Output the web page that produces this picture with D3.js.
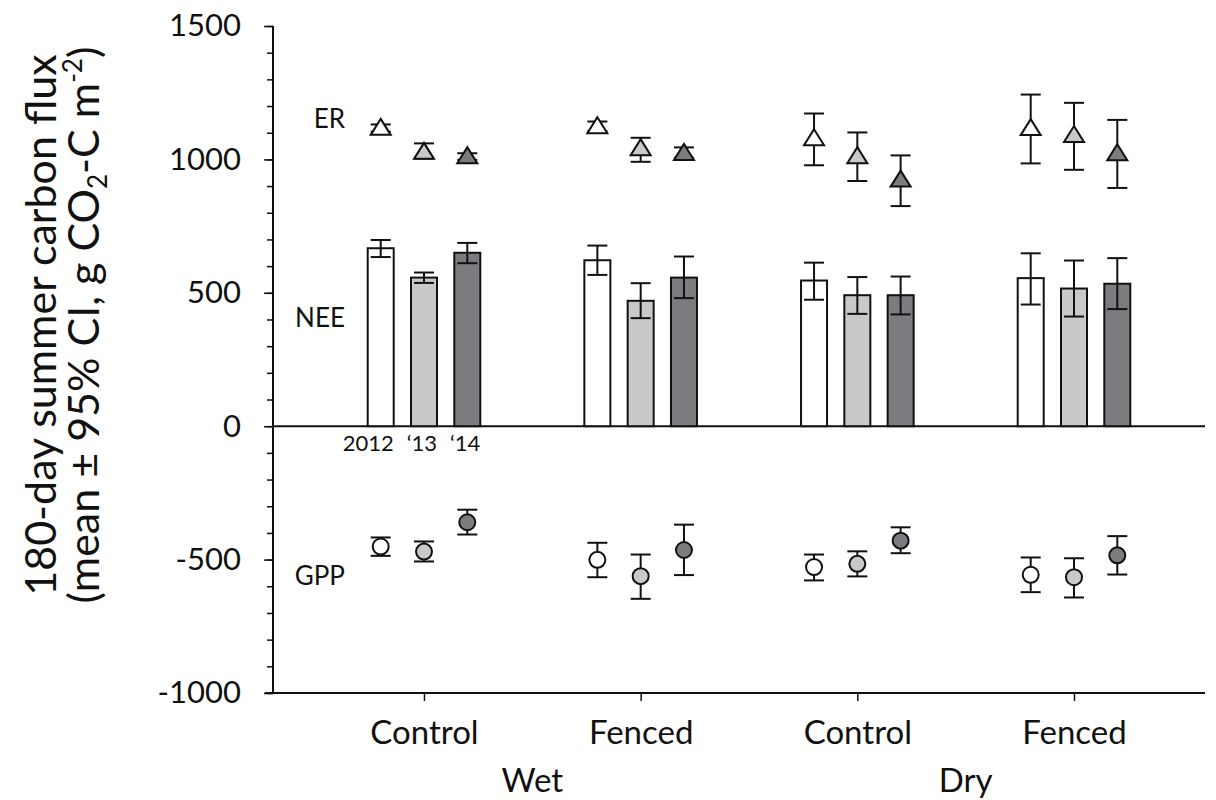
<!DOCTYPE html>
<html>
<head>
<meta charset="utf-8">
<script src="https://cdn.jsdelivr.net/npm/d3@7/dist/d3.min.js"></script>
<style>
  html, body { margin: 0; padding: 0; background: #fff; }
  svg { display: block; font-family: Lato, "Open Sans", sans-serif; }
</style>
</head>
<body>
<svg id="chart" width="1216" height="800"></svg>
<script>
// ---- data ----
const treatments = ["Control", "Fenced", "Control", "Fenced"];
const sites = ["Wet", "Dry"];
const years = ["2012", "\u201813", "\u201814"];
const yearFills = ["#ffffff", "#c8c9cb", "#7b7c80"];

// NEE (bars): mean, lower and upper 95% CI, per treatment x year
const neeMean = [[667, 557, 650], [622, 470, 557], [546, 491, 491], [555, 516, 534]];
const neeLo   = [[634, 537, 611], [567, 405, 480], [474, 421, 419], [456, 411, 439]];
const neeHi   = [[698, 576, 687], [677, 536, 636], [613, 559, 561], [648, 621, 630]];

// ER (triangles)
const erMean = [[1122, 1032, 1016], [1128, 1046, 1028], [1083, 1016, 928], [1121, 1095, 1027]];
const erLo   = [[1104, 1003, 998], [1106, 991, 1006], [978, 919, 825], [985, 961, 893]];
const erHi   = [[1131, 1060, 1023], [1142, 1081, 1045], [1172, 1101, 1015], [1243, 1212, 1148]];

// GPP (circles)
const gppMean = [[-451, -470, -360], [-501, -562, -464], [-528, -516, -429], [-557, -566, -484]];
const gppLo   = [[-486, -507, -406], [-566, -647, -558], [-578, -563, -476], [-622, -642, -556]];
const gppHi   = [[-417, -432, -313], [-437, -481, -369], [-481, -469, -379], [-492, -495, -412]];

const yTicksMajor = [-1000, -500, 0, 500, 1000, 1500];
const yTicksMinor = d3.range(-1000, 1501, 100);
const fluxLabels = ["ER", "NEE", "GPP"];

// ---- layout ----
const svg = d3.select("#chart");
const axisX = 273, plotRight = 1205, plotTop = 26, plotBottom = 693;

const y = d3.scaleLinear().domain([-1000, 1500]).range([plotBottom, plotTop]);
const xGroup = d3.scalePoint().domain(d3.range(treatments.length)).range([424, 1074]);
const xYear = d3.scalePoint().domain(d3.range(years.length)).range([-43.3, 43.3]);
const barW = 26, capW = 20;
const stroke = "#111";

// y axis: minor ticks
const gMinor = svg.append("g").attr("transform", `translate(${axisX},0)`)
  .call(d3.axisLeft(y).tickValues(yTicksMinor).tickSize(6).tickFormat(""));
gMinor.select(".domain").remove();
gMinor.selectAll("line").attr("stroke", stroke).attr("stroke-width", 1.5);

// y axis: major ticks + labels
const gMajor = svg.append("g").attr("transform", `translate(${axisX},0)`)
  .call(d3.axisLeft(y).tickValues(yTicksMajor).tickSize(9).tickPadding(23).tickFormat(d => String(d)));
gMajor.select(".domain").attr("stroke", stroke).attr("stroke-width", 2).attr("d", `M0,${plotTop}V${plotBottom}`);
gMajor.selectAll("line").attr("stroke", stroke).attr("stroke-width", 1.5);
gMajor.selectAll("text").attr("font-size", 31).attr("fill", "#111").attr("font-family", "Lato");

// x axis (bottom)
const gX = svg.append("g").attr("transform", `translate(0,${plotBottom})`)
  .call(d3.axisBottom(xGroup).tickSize(8).tickPadding(20).tickFormat(i => treatments[i]));
gX.select(".domain").attr("stroke", stroke).attr("stroke-width", 2).attr("d", `M265,0H${plotRight}`);
gX.selectAll("line").attr("stroke", stroke).attr("stroke-width", 1.5);
gX.selectAll("text").attr("font-size", 33).attr("fill", "#111").attr("font-family", "Lato");

// site labels
sites.forEach((s, i) => {
  svg.append("text")
    .attr("x", (xGroup(2 * i) + xGroup(2 * i + 1)) / 2)
    .attr("y", 792)
    .attr("text-anchor", "middle")
    .attr("font-size", 33).attr("fill", "#111")
    .text(s);
});

// zero line
svg.append("line")
  .attr("x1", axisX).attr("x2", plotRight)
  .attr("y1", y(0)).attr("y2", y(0))
  .attr("stroke", stroke).attr("stroke-width", 2);

// flatten data
const cells = [];
treatments.forEach((t, g) => years.forEach((yr, k) => cells.push({ g, k })));
const cx = d => xGroup(d.g) + xYear(d.k);

function errorBar(sel, lo, hi) {
  sel.append("line").attr("x1", cx).attr("x2", cx)
    .attr("y1", d => y(lo[d.g][d.k])).attr("y2", d => y(hi[d.g][d.k]));
  sel.append("line").attr("x1", d => cx(d) - capW / 2).attr("x2", d => cx(d) + capW / 2)
    .attr("y1", d => y(lo[d.g][d.k])).attr("y2", d => y(lo[d.g][d.k]));
  sel.append("line").attr("x1", d => cx(d) - capW / 2).attr("x2", d => cx(d) + capW / 2)
    .attr("y1", d => y(hi[d.g][d.k])).attr("y2", d => y(hi[d.g][d.k]));
}

// NEE bars
svg.append("g").selectAll("rect").data(cells).join("rect")
  .attr("x", d => cx(d) - barW / 2)
  .attr("width", barW)
  .attr("y", d => y(neeMean[d.g][d.k]))
  .attr("height", d => y(0) - y(neeMean[d.g][d.k]))
  .attr("fill", d => yearFills[d.k])
  .attr("stroke", stroke).attr("stroke-width", 2);

const eNEE = svg.append("g").attr("stroke", stroke).attr("stroke-width", 2)
  .selectAll("g").data(cells).join("g");
errorBar(eNEE, neeLo, neeHi);

// ER error bars + triangles
const eER = svg.append("g").attr("stroke", stroke).attr("stroke-width", 2)
  .selectAll("g").data(cells).join("g");
errorBar(eER, erLo, erHi);
const triW = 20, triH = 16;
svg.append("g").selectAll("path").data(cells).join("path")
  .attr("d", d => {
    const x0 = cx(d), y0 = y(erMean[d.g][d.k]);
    return `M${x0},${y0 - triH / 2}L${x0 + triW / 2},${y0 + triH / 2}L${x0 - triW / 2},${y0 + triH / 2}Z`;
  })
  .attr("fill", d => yearFills[d.k])
  .attr("stroke", stroke).attr("stroke-width", 2).attr("stroke-linejoin", "miter");

// GPP error bars + circles
const eGPP = svg.append("g").attr("stroke", stroke).attr("stroke-width", 2)
  .selectAll("g").data(cells).join("g");
errorBar(eGPP, gppLo, gppHi);
svg.append("g").selectAll("circle").data(cells).join("circle")
  .attr("cx", cx)
  .attr("cy", d => y(gppMean[d.g][d.k]))
  .attr("r", 8)
  .attr("fill", d => yearFills[d.k])
  .attr("stroke", stroke).attr("stroke-width", 2);

// year labels under first group
years.forEach((yr, k) => {
  svg.append("text")
    .attr("x", xGroup(0) + xYear(k) + barW / 2)
    .attr("y", y(0) + 25)
    .attr("text-anchor", "end")
    .attr("font-size", 22).attr("fill", "#111")
    .text(yr);
});

// flux labels
const fluxLabelY = [1117, 372, -594];
fluxLabels.forEach((lab, i) => {
  svg.append("text")
    .attr("x", 345)
    .attr("y", y(fluxLabelY[i]))
    .attr("text-anchor", "end")
    .attr("font-size", 26).attr("fill", "#111")
    .text(lab);
});

// y title
const title = svg.append("text")
  .attr("transform", "translate(56,325) rotate(-90)")
  .attr("text-anchor", "middle")
  .attr("font-size", 43).attr("fill", "#111");
title.append("tspan").attr("x", 0).attr("y", 0).text("180-day summer carbon flux");
const t2 = svg.append("text")
  .attr("transform", "translate(99,325) rotate(-90)")
  .attr("text-anchor", "middle")
  .attr("font-size", 43).attr("fill", "#111");
t2.append("tspan").text("(mean \u00b1 95% CI, g CO");
t2.append("tspan").attr("font-size", 26).attr("dy", 8).text("2");
t2.append("tspan").attr("dy", -8).text("-C m");
t2.append("tspan").attr("font-size", 26).attr("dy", -17).text("-2");
t2.append("tspan").attr("dy", 17).text(")");
</script>
</body>
</html>
